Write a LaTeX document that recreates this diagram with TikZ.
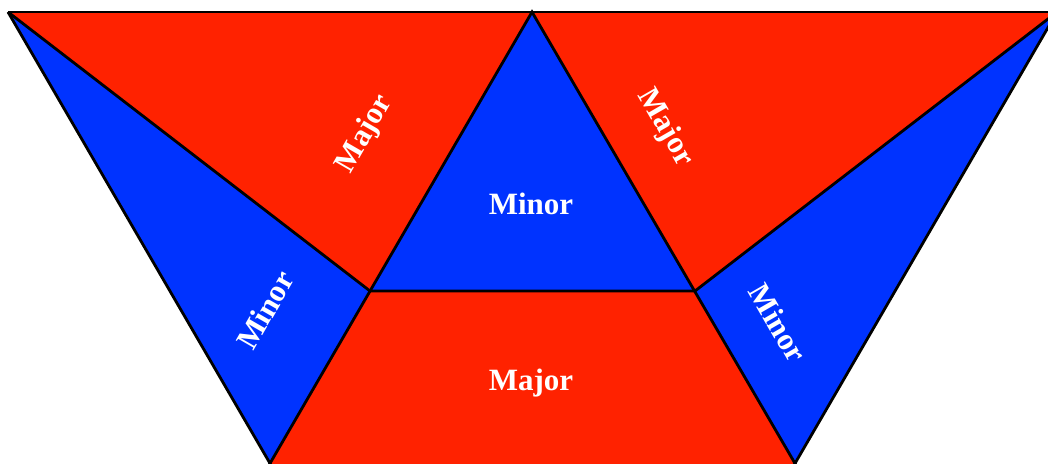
\documentclass[tikz,border=0pt]{standalone}
\usepackage{fontspec}
\setmainfont{Liberation Serif}
\definecolor{majred}{RGB}{255,34,0}
\definecolor{minblue}{RGB}{0,51,255}
\begin{document}
\begin{tikzpicture}[x=1pt,y=-1pt,
  edge/.style={draw=black,line width=2.8pt,line join=miter,miter limit=2},
  lab/.style={text=white,font=\bfseries\fontsize{31}{31}\selectfont,inner sep=0pt}]
\useasboundingbox (0,0) rectangle (1048,463);
\clip (0,0) rectangle (1048,463);
\coordinate (A) at (8,12);
\coordinate (M) at (532,12);
\coordinate (B) at (1057,12);
\coordinate (P) at (370,291);
\coordinate (Q) at (695,291);
\coordinate (C) at (270,463);
\coordinate (D) at (795,463);
\coordinate (C2) at (265,472);
\coordinate (D2) at (800,472);
\coordinate (C3) at (275,472);
\coordinate (D3) at (790,472);
\fill[majred] (A) -- (M) -- (P) -- cycle;
\fill[minblue] (A) -- (P) -- (C) -- cycle;
\fill[minblue] (M) -- (Q) -- (P) -- cycle;
\fill[majred] (M) -- (B) -- (Q) -- cycle;
\fill[minblue] (B) -- (D) -- (Q) -- cycle;
\fill[majred] (P) -- (Q) -- (D2) -- (C2) -- cycle;
\draw[edge] (C2) -- (M) -- (D2);
\draw[edge] (A) -- (B);
\draw[edge] (A) -- (P) -- (Q) -- (B);
\draw[edge] (A) -- (C3);
\draw[edge] (B) -- (D3);
\node[lab,rotate=60] (l1) at (365,134) {Major};
\node[lab,rotate=-60] (l2) at (665,128) {Major};
\node[lab] (l3) at (531,204) {Minor};
\node[lab,rotate=60] (l4) at (265,310) {Minor};
\node[lab,rotate=-60] (l5) at (778,323) {Minor};
\node[lab] (l6) at (531,383) {Major};
\end{tikzpicture}
\end{document}
